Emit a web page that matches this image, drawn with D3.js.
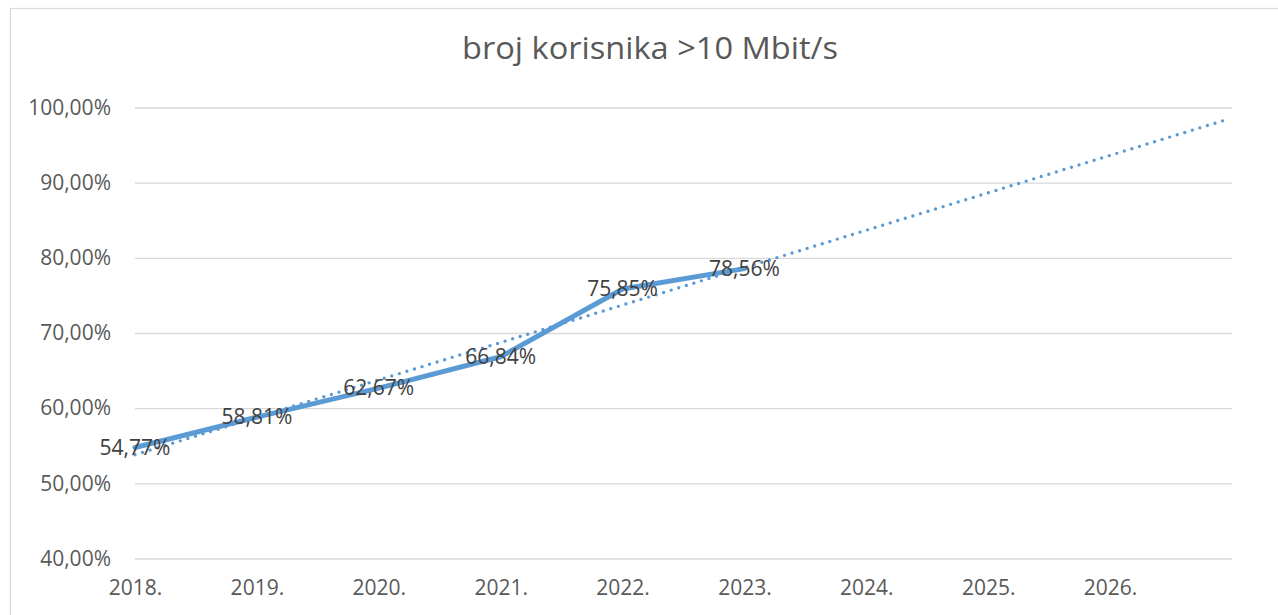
<!DOCTYPE html>
<html><head><meta charset="utf-8">
<script src="https://cdn.jsdelivr.net/npm/d3@7"></script>
<style>
html,body{margin:0;padding:0;background:#fff;}
svg{display:block;}
text{font-family:"Open Sans","Noto Sans",sans-serif;}
</style></head>
<body>
<svg id="chart" width="1278" height="615"></svg>
<script>
const categories = ["2018.","2019.","2020.","2021.","2022.","2023.","2024.","2025.","2026."];
const values = [54.77, 58.81, 62.67, 66.84, 75.85, 78.56];
const yTicks = [40, 50, 60, 70, 80, 90, 100];
const title = "broj korisnika >10 Mbit/s";
const trendForward = 3.95; // trendline forecast periods beyond last point

const svg = d3.select("#chart");
const plot = {left: 135, right: 1232, top: 107.5, bottom: 558.5};

svg.append("rect").attr("x",10.5).attr("y",8.5).attr("width",1300).attr("height",700)
  .attr("fill","#fff").attr("stroke","#d9d9d9").attr("stroke-width",1.2);

const x = d3.scaleLinear().domain([0, categories.length]).range([plot.left, plot.right]);
const y = d3.scaleLinear().domain([40, 100]).range([plot.bottom, plot.top]);

// gridlines + y labels
const yAxis = d3.axisLeft(y).tickValues(yTicks).tickSize(-(plot.right-plot.left)).tickPadding(24)
  .tickFormat(d => d3.format(".2f")(d).replace(".", ",") + "%");
const gy = svg.append("g").attr("transform",`translate(${plot.left},0)`).call(yAxis);
gy.select(".domain").remove();
gy.selectAll(".tick line").attr("stroke","#d9d9d9").attr("stroke-width",1.4);
gy.selectAll(".tick text").attr("fill","#595959").style("font-size","21px")
  .attr("font-family","Open Sans, sans-serif");

// x axis labels
const xAxis = d3.axisBottom(x).tickValues(d3.range(categories.length)).tickSize(0).tickPadding(22)
  .tickFormat(i => categories[i]);
const gx = svg.append("g").attr("transform",`translate(0,${plot.bottom})`).call(xAxis);
gx.select(".domain").remove();
gx.selectAll(".tick text").attr("fill","#595959").style("font-size","21px")
  .attr("font-family","Open Sans, sans-serif");

// series line
const line = d3.line().x((d,i)=>x(i)).y(d=>y(d)).curve(d3.curveLinear);
svg.append("path").datum(values).attr("d", line).attr("fill","none")
  .attr("stroke","#5B9BD5").attr("stroke-width",5).attr("stroke-linejoin","round").attr("stroke-linecap","round");

// linear trendline (least squares on the data)
const xs = values.map((d,i)=>i);
const mx = d3.mean(xs), my = d3.mean(values);
const slope = d3.sum(xs.map((xi,i)=>(xi-mx)*(values[i]-my))) / d3.sum(xs.map(xi=>(xi-mx)*(xi-mx)));
const icpt = my - slope*mx;
const tEnd = values.length - 1 + trendForward;
const trend = [[0, icpt], [tEnd, icpt + slope*tEnd]];
svg.append("path").datum(trend).attr("d", d3.line().x(d=>x(d[0])).y(d=>y(d[1])))
  .attr("fill","none").attr("stroke","#5B9BD5").attr("stroke-width",3.4)
  .attr("stroke-linecap","round").attr("stroke-dasharray","0 7.9");

// data labels
svg.append("g").selectAll("text").data(values).join("text")
  .attr("x",(d,i)=>x(i)).attr("y",d=>y(d)).attr("dy","0.35em")
  .attr("text-anchor","middle").attr("fill","#404040").style("font-size","21px")
  .text(d => d3.format(".2f")(d).replace(".", ",") + "%");

// title
const t = svg.append("text").attr("x",650).attr("y",59).attr("text-anchor","middle")
  .attr("fill","#595959").style("font-size","31px").text(title);
t.attr("textLength", 376).attr("lengthAdjust","spacingAndGlyphs");
</script>
</body></html>
